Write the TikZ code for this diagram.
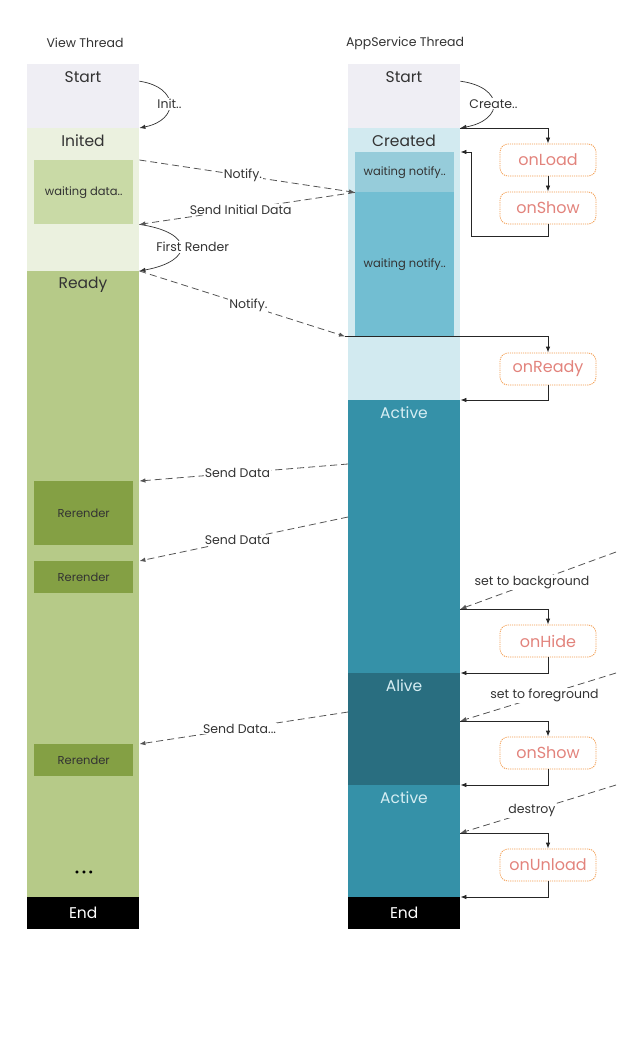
\documentclass[tikz,border=0pt]{standalone}
\usepackage{fontspec}
\setmainfont{Poppins}
\usetikzlibrary{arrows.meta}

\definecolor{startc}{HTML}{EFEEF4}
\definecolor{initc}{HTML}{EBF1DF}
\definecolor{waitc}{HTML}{C9DAA6}
\definecolor{readyc}{HTML}{B6CA88}
\definecolor{rerc}{HTML}{84A044}
\definecolor{createdc}{HTML}{D2EAF0}
\definecolor{wnonec}{HTML}{96CCDA}
\definecolor{wntwoc}{HTML}{72BED2}
\definecolor{activec}{HTML}{3591A8}
\definecolor{alivec}{HTML}{296E80}
\definecolor{txtdark}{HTML}{333333}
\definecolor{txtlight}{HTML}{D6EEF3}
\definecolor{cbtext}{HTML}{E2837C}
\definecolor{cbborder}{HTML}{F29A4C}
\definecolor{dashc}{HTML}{555555}

\begin{document}
\begin{tikzpicture}[x=1pt,y=-1pt,
  lane/.style={rectangle,draw=none,inner sep=0pt,minimum width=112pt,anchor=north west},
  inbox/.style={rectangle,draw=none,inner sep=0pt,minimum width=99pt,anchor=north west,
    text=txtdark,font=\fontsize{11.5}{13}\selectfont},
  state/.style={inner sep=0pt,text=txtdark,font=\fontsize{15.5}{18}\selectfont},
  statelight/.style={state,text=txtlight},
  title/.style={inner sep=0pt,text=txtdark,font=\fontsize{12.5}{15}\selectfont},
  cb/.style={rectangle,draw=cbborder,dash pattern=on 1.2pt off 1pt,line width=0.8pt,
    rounded corners=8pt,minimum width=96pt,minimum height=32pt,inner sep=0pt,
    text=cbtext,font=\fontsize{16}{19}\selectfont},
  tip/.style={-{Latex[length=6pt,width=4.5pt]}},
  msg/.style={tip,draw=dashc,line width=0.8pt,dash pattern=on 7pt off 4pt},
  flow/.style={tip,draw=black!85,line width=0.8pt},
  curv/.style={tip,draw=black!80,line width=0.7pt},
  lbl/.style={fill=white,inner sep=1pt,text=txtdark,font=\fontsize{12.5}{15}\selectfont}]
\useasboundingbox (0,0) rectangle (636,1056);

% thread titles
\node[title] (vtitle) at (85,43) {View Thread};
\node[title] (atitle) at (405,43) {AppService Thread};

% view thread lane
\node[lane,fill=startc,minimum height=64pt] (vstart) at (27,64) {};
\node[lane,fill=initc,minimum height=143pt] (vinited) at (27,128) {};
\node[inbox,fill=waitc,minimum height=64pt] (vwait) at (34,160) {waiting data..};
\node[lane,fill=readyc,minimum height=626pt] (vready) at (27,271) {};
\node[inbox,fill=rerc,minimum height=64pt] (rr1) at (34,481) {Rerender};
\node[inbox,fill=rerc,minimum height=32pt] (rr2) at (34,561) {Rerender};
\node[inbox,fill=rerc,minimum height=32pt] (rr3) at (34,744) {Rerender};
\node[lane,fill=black,minimum height=32pt,text=white,font=\fontsize{15.5}{18}\selectfont] (vend) at (27,897) {End};
\node[state] (vstartt) at (83,77) {Start};
\node[state] (vinitedt) at (83,141) {Inited};
\node[state] (vreadyt) at (83,285) {Ready};
\node[inner sep=0pt,text=black,font=\fontsize{12}{14}\selectfont] (vdots) at (84,874) {•\,•\,•};

% app service lane
\node[lane,fill=startc,minimum height=64pt] (astart) at (348,64) {};
\node[lane,fill=createdc,minimum height=272pt] (acreated) at (348,128) {};
\node[inbox,fill=wnonec,minimum height=40pt] (wn1) at (355,152) {waiting notify..};
\node[inbox,fill=wntwoc,minimum height=144pt] (wn2) at (355,192) {waiting notify..};
\node[lane,fill=activec,minimum height=273pt] (aactive1) at (348,400) {};
\node[lane,fill=alivec,minimum height=112pt] (aalive) at (348,673) {};
\node[lane,fill=activec,minimum height=112pt] (aactive2) at (348,785) {};
\node[lane,fill=black,minimum height=32pt,text=white,font=\fontsize{15.5}{18}\selectfont] (aend) at (348,897) {End};
\node[state] (astartt) at (404,77) {Start};
\node[state] (acreatedt) at (404,141) {Created};
\node[statelight] (aactivet1) at (404,413) {Active};
\node[statelight] (aalivet) at (404,686) {Alive};
\node[statelight] (aactivet2) at (404,798) {Active};

% lifecycle callbacks
\node[cb] (onload) at (548,160) {onLoad};
\node[cb] (onshowa) at (548,208) {onShow};
\node[cb] (onready) at (548,369) {onReady};
\node[cb] (onhide) at (548,641) {onHide};
\node[cb] (onshowb) at (548,753) {onShow};
\node[cb] (onunload) at (548,865) {onUnload};

% external triggers
\coordinate (bgsrc) at (616,552);
\coordinate (fgsrc) at (616,673);
\coordinate (dsrc) at (616,785);

% start-up curves
\draw[curv] ([yshift=15pt]vstart.east)
  .. controls +(40,6) and +(40,-8) .. (vinited.north east) node[lbl,pos=0.5] {Init..};
\draw[curv] ([yshift=15pt]astart.east)
  .. controls +(44,6) and +(44,-8) .. (acreated.north east) node[lbl,pos=0.5] {Create..};
\draw[curv] (vinited.east |- vwait.south)
  .. controls +(55,8) and +(55,-10) .. (vready.north east) node[lbl,pos=0.5,xshift=12pt] {First Render};

% view/app messages
\draw[msg] (vinited.east |- vwait.north) -- (wn1.south west) node[lbl,pos=0.48] {Notify.};
\draw[msg] (wn1.south west) -- (vinited.east |- vwait.south) node[lbl,pos=0.53] {Send Initial Data};
\draw[msg] (vready.north east) -- ([xshift=-10pt]wn2.south west) node[lbl,pos=0.53] {Notify.};
\draw[msg] ([yshift=-64pt]aactive1.north west) -- (vready.east |- rr1.north) node[lbl,pos=0.53] {Send Data};
\draw[msg] ([yshift=-117pt]aactive1.north west) -- (vready.east |- rr2.north) node[lbl,pos=0.53] {Send Data};
\draw[msg] ([yshift=-39pt]aalive.north west) -- (vready.east |- rr3.north) node[lbl,pos=0.52] {Send Data...};
\draw[msg] (bgsrc) -- ([yshift=-209pt]aactive1.north east) node[lbl,pos=0.54] {set to background};
\draw[msg] (fgsrc) -- ([yshift=-48pt]aalive.north east) node[lbl,pos=0.46] {set to foreground};
\draw[msg] (dsrc) -- ([yshift=-48pt]aactive2.north east) node[lbl,pos=0.54] {destroy};

% callback flow
\draw[flow] (acreated.north east) -| (onload.north);
\draw[flow] (onload.south) -- (onshowa.north);
\draw[flow] (onshowa.south) -- ++(0,12) -- ++(-77,0) |- (acreated.east |- wn1.north);
\draw[flow] ([xshift=-10pt]wn2.south west) -| (onready.north);
\draw[flow] (onready.south) |- (aactive1.north east);
\draw[flow] ([yshift=-209pt]aactive1.north east) -| (onhide.north);
\draw[flow] (onhide.south) |- (aalive.north east);
\draw[flow] ([yshift=-48pt]aalive.north east) -| (onshowb.north);
\draw[flow] (onshowb.south) |- (aactive2.north east);
\draw[flow] ([yshift=-48pt]aactive2.north east) -| (onunload.north);
\draw[flow] (onunload.south) |- (aend.north east);
\end{tikzpicture}
\end{document}
